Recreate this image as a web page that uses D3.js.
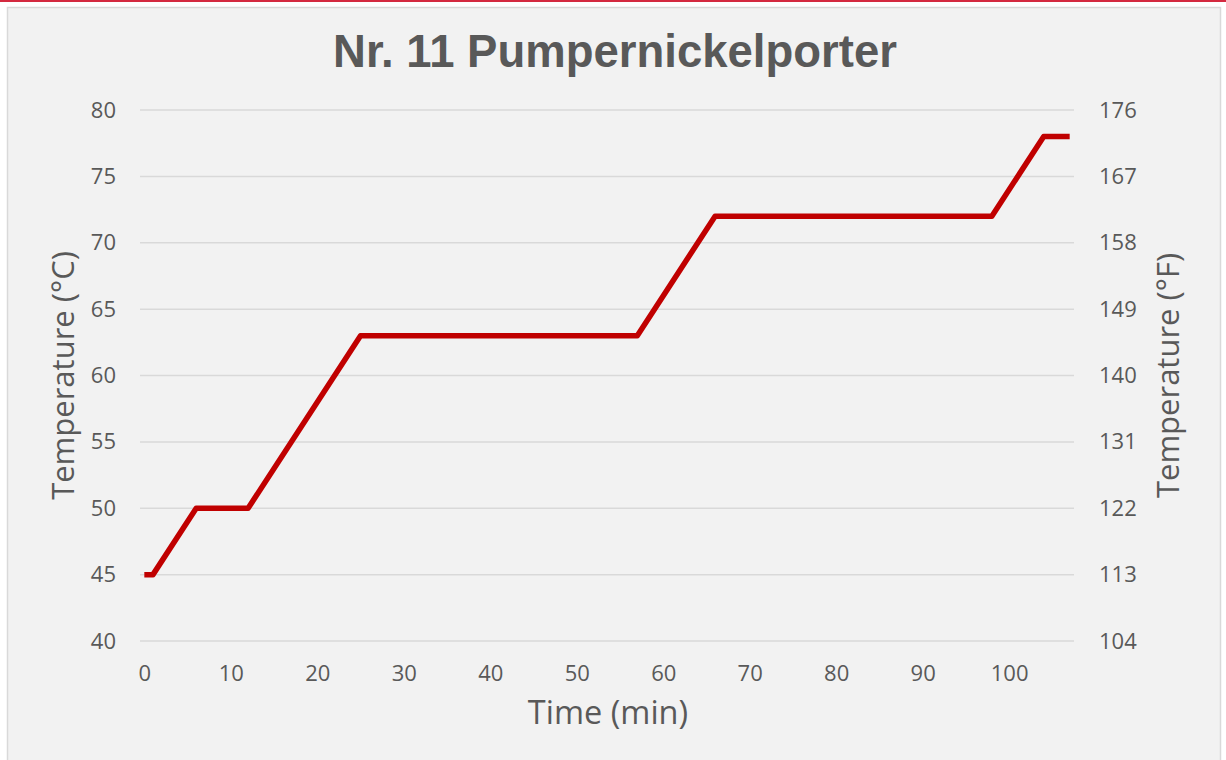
<!DOCTYPE html>
<html>
<head>
  <meta charset="UTF-8">
  <title>Nr. 11 Pumpernickelporter</title>
  <script src="https://d3js.org/d3.v7.min.js"></script>
  <style>
    body { margin: 0; background: #fff; overflow: hidden; }
    svg { display: block; }
    .tick text { font-family: 'Open Sans', sans-serif; font-size: 22px; fill: #595959; }
    .axis-title { font-family: 'Open Sans', sans-serif; fill: #595959; }
    .chart-title { font-family: 'Liberation Sans', Arial, sans-serif; font-size: 45.5px; font-weight: bold; fill: #595959; }
  </style>
</head>
<body>
  <svg id="chart" width="1226" height="760"></svg>
  <script>
    // Mash schedule: time (min) and temperature (°C)
    const times = [0, 1, 6, 12, 25, 57, 66, 98, 104, 107];
    const temps = [45, 45, 50, 50, 63, 63, 72, 72, 78, 78];
    const xTicks = [0, 10, 20, 30, 40, 50, 60, 70, 80, 90, 100];
    const yTicksC = [40, 45, 50, 55, 60, 65, 70, 75, 80];
    const yTicksF = [104, 113, 122, 131, 140, 149, 158, 167, 176];

    const data = times.map((t, i) => ({ t, c: temps[i] }));

    const svg = d3.select("#chart");

    // top accent line and chart frame
    svg.append("rect").attr("x", 0).attr("y", 0).attr("width", 1226).attr("height", 2).attr("fill", "#d42a40");
    svg.append("rect").attr("x", 7.5).attr("y", 7.5).attr("width", 1213).attr("height", 760)
      .attr("fill", "#f2f2f2").attr("stroke", "#d9d9d9").attr("stroke-width", 1.5);

    const plotL = 140, plotR = 1074, plotT = 110, plotB = 641;

    const x = d3.scaleLinear().domain([-0.5, 107.5]).range([plotL, plotR]);
    const y = d3.scaleLinear().domain([40, 80]).range([plotB, plotT]);
    const yF = d3.scaleLinear().domain([104, 176]).range([plotB, plotT]);

    // gridlines
    svg.append("g")
      .selectAll("line")
      .data(yTicksC)
      .join("line")
      .attr("x1", plotL).attr("x2", plotR)
      .attr("y1", d => y(d)).attr("y2", d => y(d))
      .attr("stroke", "#d9d9d9").attr("stroke-width", 1.5);

    // axes
    const gl = svg.append("g")
      .attr("transform", `translate(${plotL - 20},0)`)
      .call(d3.axisLeft(y).tickValues(yTicksC).tickSize(0).tickPadding(4));
    gl.select(".domain").remove();

    const gr = svg.append("g")
      .attr("transform", `translate(${plotR + 21},0)`)
      .call(d3.axisRight(yF).tickValues(yTicksF).tickSize(0).tickPadding(4));
    gr.select(".domain").remove();

    const gx = svg.append("g")
      .attr("transform", `translate(0,${plotB + 16})`)
      .call(d3.axisBottom(x).tickValues(xTicks).tickSize(0).tickPadding(8));
    gx.select(".domain").remove();

    // line
    const line = d3.line().x(d => x(d.t)).y(d => y(d.c));
    svg.append("path")
      .datum(data)
      .attr("d", line)
      .attr("fill", "none")
      .attr("stroke", "#c00000")
      .attr("stroke-width", 5.5)
      .attr("stroke-linejoin", "round");

    // titles
    svg.append("text").attr("class", "chart-title")
      .attr("x", 615).attr("y", 67).attr("text-anchor", "middle")
      .text("Nr. 11 Pumpernickelporter");

    svg.append("text").attr("class", "axis-title")
      .attr("x", 608).attr("y", 724).attr("text-anchor", "middle")
      .style("font-size", "32.5px")
      .text("Time (min)");

    svg.append("text").attr("class", "axis-title")
      .attr("transform", `translate(74,${(plotT + plotB) / 2}) rotate(-90)`)
      .attr("text-anchor", "middle")
      .style("font-size", "31px")
      .text("Temperature (°C)");

    svg.append("text").attr("class", "axis-title")
      .attr("transform", `translate(1179,${(plotT + plotB) / 2}) rotate(-90)`)
      .attr("text-anchor", "middle")
      .style("font-size", "31px")
      .text("Temperature (°F)");
  </script>
</body>
</html>
